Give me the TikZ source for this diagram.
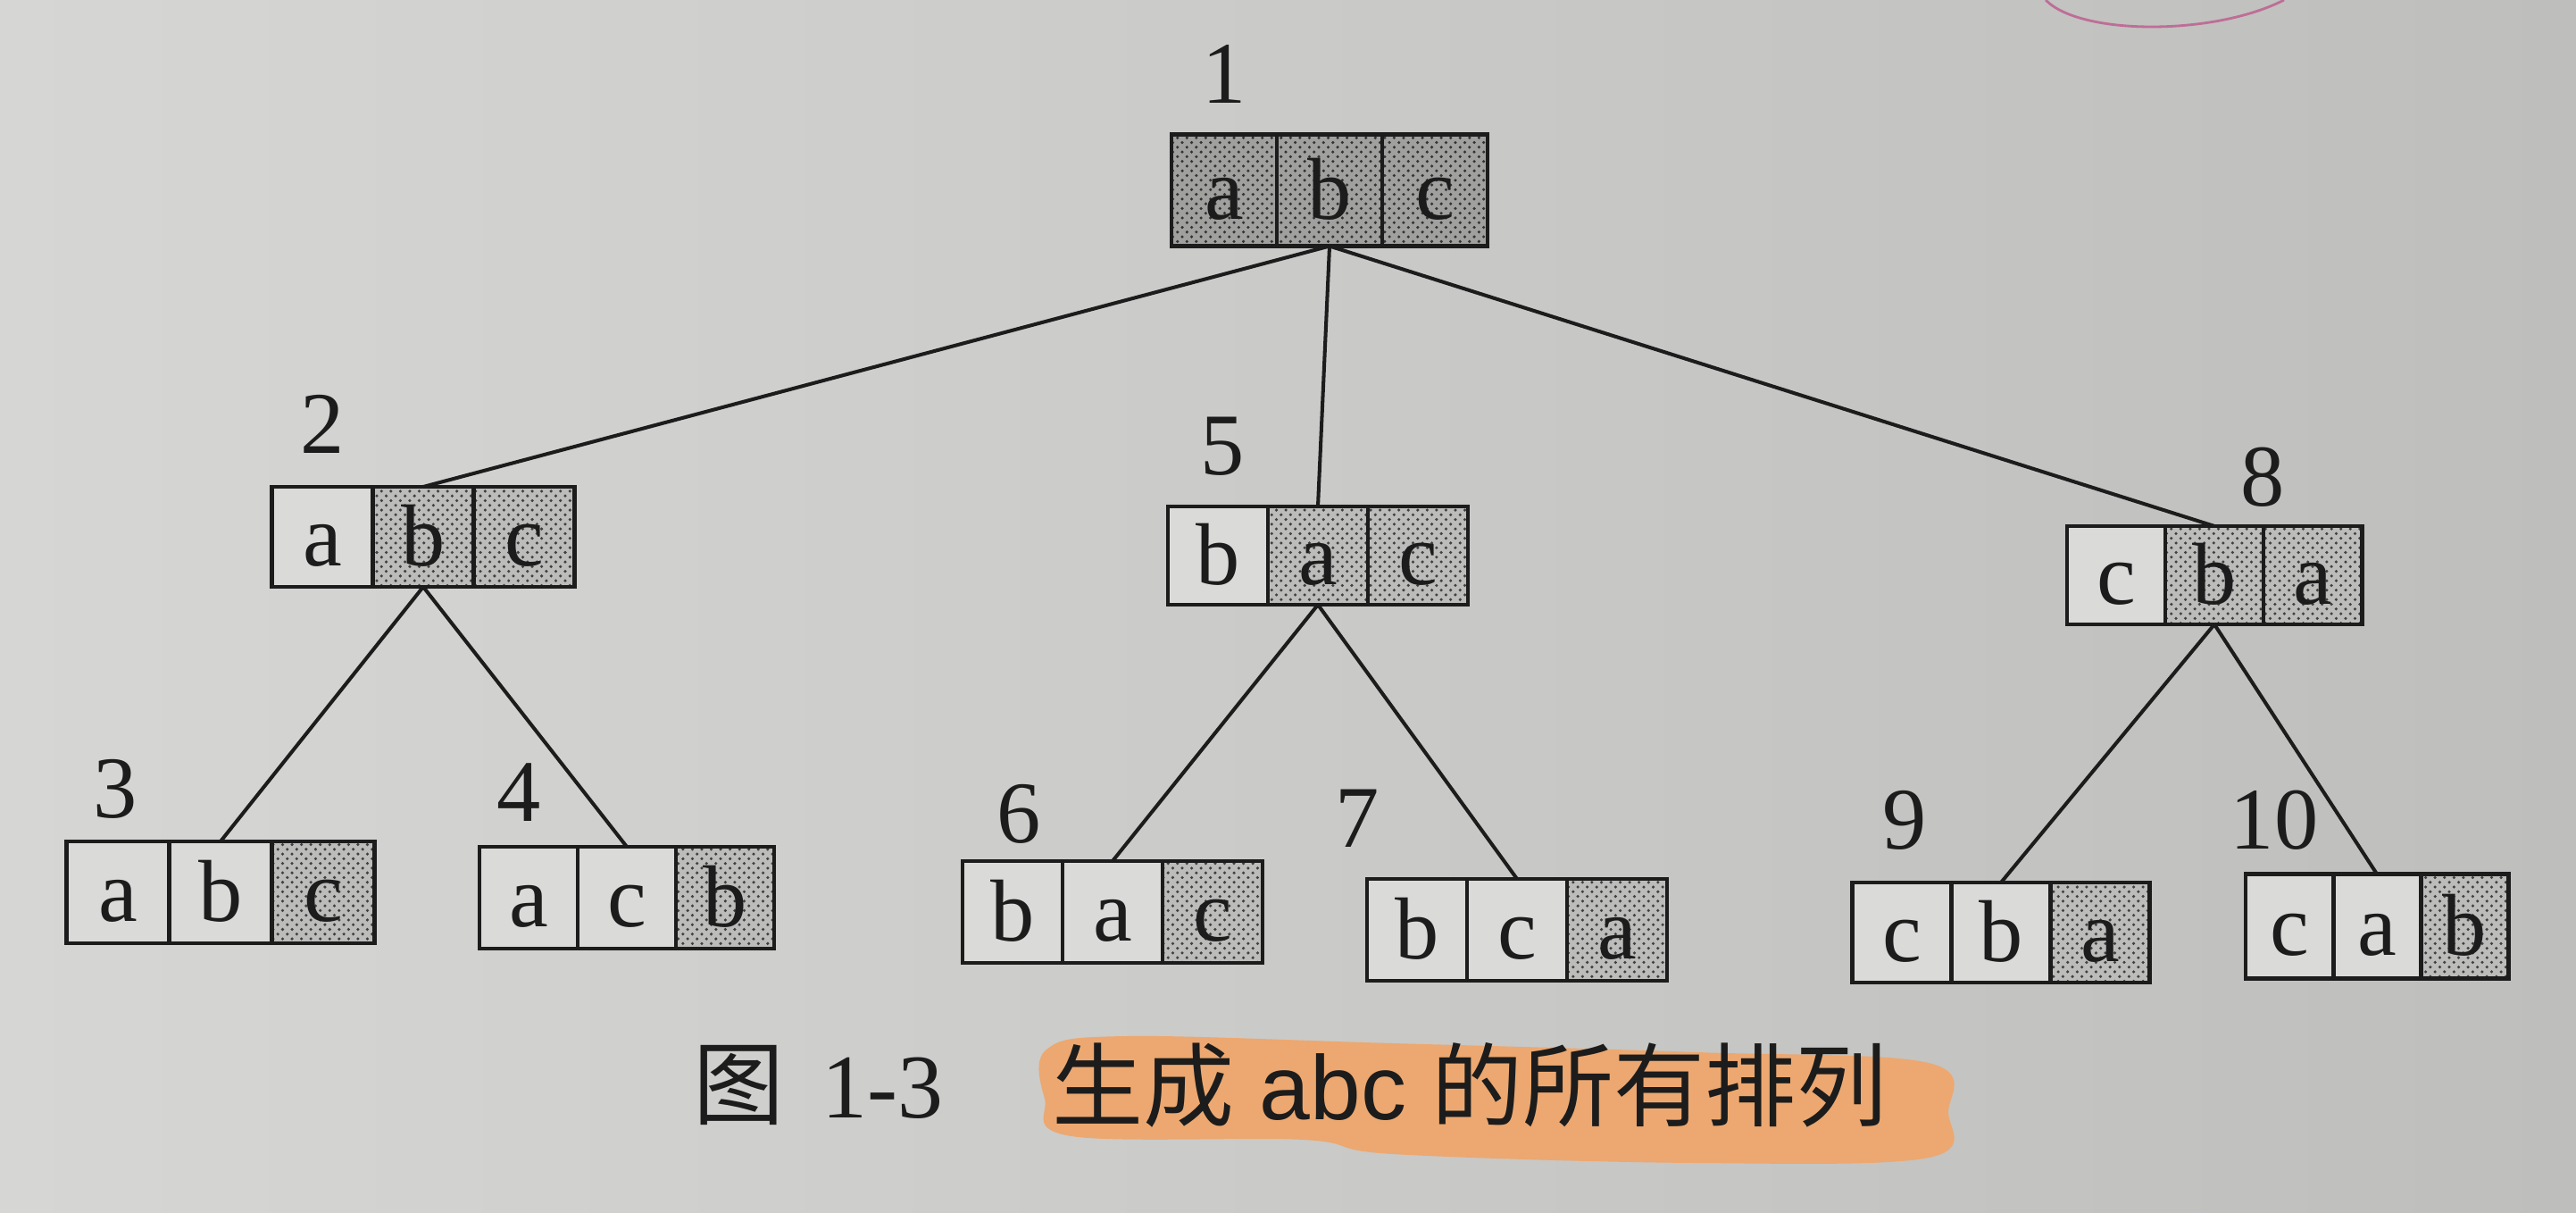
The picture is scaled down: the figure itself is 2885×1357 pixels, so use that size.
\documentclass[tikz,border=0pt]{standalone}
\usepackage{fontspec}
\setmainfont{Liberation Serif}
\newfontfamily\cjk{Noto Sans CJK SC}
\newfontfamily\sansf{Liberation Sans}
\usetikzlibrary{positioning,patterns}
\definecolor{paperL}{RGB}{214,214,212}
\definecolor{paperR}{RGB}{190,190,188}
\definecolor{cellw}{RGB}{218,218,216}
\definecolor{shadeD}{RGB}{160,160,158}
\definecolor{shadeL}{RGB}{188,188,186}
\definecolor{hl}{RGB}{236,168,112}
\definecolor{ink}{RGB}{28,28,28}
\definecolor{pen}{RGB}{190,110,150}
\begin{document}
\begin{tikzpicture}[x=0.01cm,y=-0.01cm,
  cellsz/.style 2 args={minimum width=#1*0.01cm, minimum height=#2*0.01cm},
  cellbase/.style={draw=ink, line width=1.4pt, inner sep=0pt, outer sep=0pt,
    text=ink, font=\fontsize{28}{30}\selectfont, text height=19pt, text depth=0.5pt},
  wc/.style={cellbase, fill=cellw},
  gc/.style={cellbase, preaction={fill=shadeL}, pattern=crosshatch dots, pattern color=black!75},
  dc/.style={cellbase, preaction={fill=shadeD}, pattern=crosshatch dots, pattern color=black!80},
  num/.style={text=ink, inner sep=0pt, font=\fontsize{28}{30}\selectfont},
  edge/.style={draw=ink, line width=1.15pt},
  captext/.style={text=ink, inner sep=0pt, anchor=west, font=\fontsize{29}{32}\selectfont}
]
\useasboundingbox (0,0) rectangle (2885,1357);
\shade[left color=paperL, right color=paperR] (0,0) rectangle (2885,1357);
% pen mark
\draw[pen, line width=0.8pt] (2291,0) .. controls (2330,40) and (2480,40) .. (2558,0);
% highlight
\fill[hl] plot[smooth cycle, tension=0.6] coordinates {(1172,1175) (1260,1160) (1560,1168) (1900,1178) (2160,1190)
  (2182,1245) (2160,1296) (1900,1302) (1560,1292) (1460,1276) (1200,1272) (1170,1230)};

% box 1
\node[dc, cellsz={118}{125}] (n1a) at (1371,213) {a};
\node[dc, cellsz={118}{125}, right=0pt of n1a] (n1b) {b};
\node[dc, cellsz={118}{125}, right=0pt of n1b] (n1c) {c};
\node[num] (l1) at (1371,83) {1};
% box 2
\node[wc, cellsz={113}{112}] (n2a) at (361,601) {a};
\node[gc, cellsz={113}{112}, right=0pt of n2a] (n2b) {b};
\node[gc, cellsz={113}{112}, right=0pt of n2b] (n2c) {c};
\node[num] (l2) at (361,475) {2};
% box 5
\node[wc, cellsz={112}{110}] (n5a) at (1364,622) {b};
\node[gc, cellsz={112}{110}, right=0pt of n5a] (n5b) {a};
\node[gc, cellsz={112}{110}, right=0pt of n5b] (n5c) {c};
\node[num] (l5) at (1369,500) {5};
% box 8
\node[wc, cellsz={110}{110}] (n8a) at (2370,644) {c};
\node[gc, cellsz={110}{110}, right=0pt of n8a] (n8b) {b};
\node[gc, cellsz={110}{110}, right=0pt of n8b] (n8c) {a};
\node[num] (l8) at (2534,534) {8};
% box 3
\node[wc, cellsz={115}{114}] (n3a) at (132,999) {a};
\node[wc, cellsz={115}{114}, right=0pt of n3a] (n3b) {b};
\node[gc, cellsz={115}{114}, right=0pt of n3b] (n3c) {c};
\node[num] (l3) at (129,883) {3};
% box 4
\node[wc, cellsz={110}{114}] (n4a) at (592,1005) {a};
\node[wc, cellsz={110}{114}, right=0pt of n4a] (n4b) {c};
\node[gc, cellsz={110}{114}, right=0pt of n4b] (n4c) {b};
\node[num] (l4) at (581,887) {4};
% box 6
\node[wc, cellsz={112}{114}] (n6a) at (1134,1021) {b};
\node[wc, cellsz={112}{114}, right=0pt of n6a] (n6b) {a};
\node[gc, cellsz={112}{114}, right=0pt of n6b] (n6c) {c};
\node[num] (l6) at (1141,911) {6};
% box 7
\node[wc, cellsz={112}{114}] (n7a) at (1587,1041) {b};
\node[wc, cellsz={112}{114}, right=0pt of n7a] (n7b) {c};
\node[gc, cellsz={112}{114}, right=0pt of n7b] (n7c) {a};
\node[num] (l7) at (1520,916) {7};
% box 9
\node[wc, cellsz={111}{112}] (n9a) at (2130,1044) {c};
\node[wc, cellsz={111}{112}, right=0pt of n9a] (n9b) {b};
\node[gc, cellsz={111}{112}, right=0pt of n9b] (n9c) {a};
\node[num] (l9) at (2133,918) {9};
% box 10
\node[wc, cellsz={98}{117}] (n10a) at (2564,1037) {c};
\node[wc, cellsz={98}{117}, right=0pt of n10a] (n10b) {a};
\node[gc, cellsz={98}{117}, right=0pt of n10b] (n10c) {b};
\node[num] (l10) at (2547,918) {10};

% connectors
\draw[edge] (n1b.south) -- (n2b.north);
\draw[edge] (n1b.south) -- (n5b.north);
\draw[edge] (n1b.south) -- (n8b.north);
\draw[edge] (n2b.south) -- (n3b.north);
\draw[edge] (n2b.south) -- (n4b.north);
\draw[edge] (n5b.south) -- (n6b.north);
\draw[edge] (n5b.south) -- (n7b.north);
\draw[edge] (n8b.south) -- (n9b.north);
\draw[edge] (n8b.south) -- (n10b.north);

% caption
\node[captext] (figno) at (776,1215) {{\cjk 图}\hspace{12pt}1-3};
\node[captext] (title) at (1178,1215) {{\cjk 生成}\hspace{8pt}{\sansf abc}\hspace{8pt}{\cjk 的所有排列}};
\end{tikzpicture}
\end{document}
